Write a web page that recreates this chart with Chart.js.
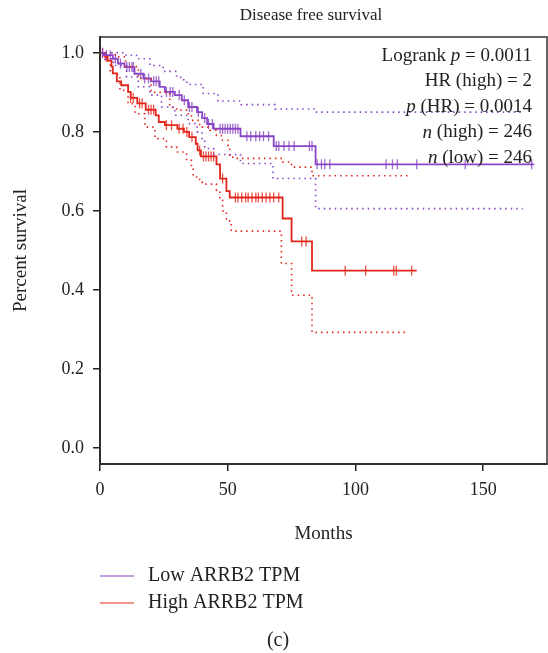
<!DOCTYPE html>
<html>
<head>
<meta charset="utf-8">
<script src="https://cdn.jsdelivr.net/npm/chart.js@4.4.1/dist/chart.umd.min.js"></script>
<style>
  html, body { margin: 0; padding: 0; background: #fff; }
</style>
</head>
<body>
<canvas id="chart" width="548" height="653"></canvas>
<script>
const chartTitle = 'Disease free survival';
const xTitle = 'Months';
const yTitle = 'Percent survival';
const caption = '(c)';
const xTicks = [0, 50, 100, 150];
const yTicks = [0, 0.2, 0.4, 0.6, 0.8, 1.0];
const seriesNames = ['Low ARRB2 TPM', 'High ARRB2 TPM'];

// Kaplan-Meier steps: value holds from that month on
const lowMonths = [0, 1.5, 5, 7, 9.6, 13.5, 17, 20, 23.4, 25.4, 29.3, 32, 34.5, 38, 40, 42, 44.5, 55, 68, 84.4, 170];
const lowSurv = [1, 0.994, 0.985, 0.973, 0.964, 0.947, 0.935, 0.928, 0.914, 0.901, 0.893, 0.88, 0.863, 0.85, 0.835, 0.82, 0.808, 0.789, 0.764, 0.718, 0.718];
const highMonths = [0, 2, 3, 4.5, 5, 6.6, 8.3, 11, 12, 14.6, 17.9, 21.8, 23, 25.4, 30.3, 32.9, 34.9, 37.5, 38.2, 39.5, 45.6, 47, 49.5, 50.8, 71.5, 75, 83, 124];
const highSurv = [1, 0.99, 0.98, 0.965, 0.948, 0.928, 0.918, 0.901, 0.886, 0.872, 0.856, 0.842, 0.825, 0.817, 0.808, 0.8, 0.787, 0.77, 0.753, 0.738, 0.718, 0.682, 0.65, 0.634, 0.581, 0.523, 0.449, 0.449];

// censored observations (months)
const lowCensor = [1, 2.5, 4, 6, 8, 10.5, 11.5, 12.5, 13, 16, 17.5, 19, 21, 22, 23, 26, 27.5, 28.5, 31, 33, 35, 36, 38.5, 41, 42.5, 44, 47, 48, 49, 50, 51, 52, 53, 54, 57.5, 59, 61, 62.5, 64, 66, 69, 70, 72, 74, 76, 82, 83, 85, 86.7, 88, 90, 112, 114.5, 116.4, 124, 143, 169];
const highCensor = [1, 2.5, 12, 13, 15.5, 16.5, 19, 20, 21, 26, 28, 31, 32.5, 34, 36, 39, 40.5, 41.5, 42.5, 43.5, 44.5, 48, 53, 54, 55.5, 57, 58, 59.5, 61, 62, 63.5, 65, 66.5, 68, 70, 79, 80.7, 96, 104, 115, 116, 122];

// 95% confidence bands
const lowUpperMonths = [0, 3.3, 9.8, 14.3, 19.5, 24.7, 30, 32.6, 34, 40.4, 46.2, 55.3, 68.5, 84.4, 165.5];
const lowUpperSurv = [1, 1, 0.994, 0.985, 0.968, 0.953, 0.938, 0.932, 0.92, 0.897, 0.878, 0.869, 0.858, 0.85, 0.85];
const lowLowerMonths = [0, 2, 5.2, 10.4, 15, 19.5, 24.1, 29.3, 34.5, 38, 40, 41, 44.5, 55, 67.7, 84.4, 165.5];
const lowLowerSurv = [1, 0.985, 0.968, 0.939, 0.914, 0.893, 0.863, 0.842, 0.821, 0.8, 0.783, 0.758, 0.743, 0.72, 0.682, 0.606, 0.606];
const highUpperMonths = [0, 3, 6, 10, 15, 20, 27.3, 30, 33.9, 35.8, 39, 43, 45.6, 47.5, 50.1, 50.8, 52, 71.5, 75, 83, 121];
const highUpperSurv = [1, 1, 0.99, 0.965, 0.935, 0.9, 0.862, 0.855, 0.846, 0.829, 0.812, 0.804, 0.791, 0.779, 0.766, 0.741, 0.733, 0.724, 0.711, 0.689, 0.689];
const highLowerMonths = [0, 2, 4, 5.2, 7.8, 11, 13.7, 17.6, 21.5, 26, 30, 33.9, 35.8, 36.5, 39, 40, 45.6, 46.9, 48, 49.5, 51.4, 71, 75, 83, 120.4];
const highLowerSurv = [1, 0.98, 0.955, 0.945, 0.905, 0.871, 0.846, 0.812, 0.783, 0.762, 0.749, 0.728, 0.711, 0.686, 0.673, 0.668, 0.652, 0.627, 0.6, 0.575, 0.549, 0.467, 0.387, 0.293, 0.293];

// stats block, [text, italic] parts per line
const statLines = [
  [['Logrank ', false], ['p', true], [' = 0.0011', false]],
  [['HR (high) = 2', false]],
  [['p', true], [' (HR) = 0.0014', false]],
  [['n', true], [' (high) = 246', false]],
  [['n', true], [' (low) = 246', false]],
];

const purple = '#8a45c6';
const red = '#e3261c';
const serif = '"Liberation Serif", "DejaVu Serif", serif';

const pts = (ms, ss) => ms.map((m, i) => ({ x: m, y: ss[i] }));
function survAt(ms, ss, t) {
  let v = ss[0];
  for (let i = 0; i < ms.length; i++) if (ms[i] <= t) v = ss[i];
  return v;
}
const censorPts = (cs, ms, ss) => cs.map(c => ({ x: c, y: survAt(ms, ss, c) }));

function band(data, color) {
  return {
    data, borderColor: color, borderWidth: 1.6, borderDash: [1.5, 4],
    stepped: true, pointRadius: 0, fill: false,
  };
}
function curve(data, color) {
  return { data, borderColor: color, borderWidth: 1.8, stepped: true, pointRadius: 0, fill: false };
}
function ticks(data, color) {
  return {
    data, showLine: false, borderColor: color, backgroundColor: color,
    pointStyle: 'line', pointRotation: 90, pointRadius: 5,
    pointBorderWidth: 1.3, pointBorderColor: color + 'cc',
  };
}

const extras = {
  id: 'extras',
  afterDraw(chart) {
    const { ctx, chartArea: a } = chart;
    ctx.save();
    ctx.strokeStyle = '#333';
    ctx.lineWidth = 1.5;
    ctx.strokeRect(a.left, a.top, a.right - a.left, a.bottom - a.top);

    ctx.fillStyle = '#222';
    ctx.textBaseline = 'middle';
    ctx.textAlign = 'center';
    ctx.font = '17px ' + serif;
    ctx.fillText(chartTitle, 311, 16);

    // stats, right aligned
    ctx.textAlign = 'left';
    statLines.forEach((parts, i) => {
      let w = 0;
      parts.forEach(([t, it]) => {
        ctx.font = (it ? 'italic ' : '') + '19px ' + serif;
        w += ctx.measureText(t).width;
      });
      let x = a.right - 15 - w;
      const y = 56 + i * 25.5;
      parts.forEach(([t, it]) => {
        ctx.font = (it ? 'italic ' : '') + '19px ' + serif;
        ctx.fillText(t, x, y);
        x += ctx.measureText(t).width;
      });
    });

    // legend
    ctx.font = '20px ' + serif;
    [purple, red].forEach((c, i) => {
      const y = 576 + i * 27;
      ctx.strokeStyle = c;
      ctx.lineWidth = 1.2;
      ctx.beginPath();
      ctx.moveTo(100, y);
      ctx.lineTo(134, y);
      ctx.stroke();
      ctx.fillText(seriesNames[i], 148, y);
    });

    ctx.textAlign = 'center';
    ctx.fillText(caption, 278, 641);
    ctx.restore();
  },
};

new Chart(document.getElementById('chart'), {
  type: 'line',
  data: {
    datasets: [
      band(pts(lowUpperMonths, lowUpperSurv), purple),
      band(pts(lowLowerMonths, lowLowerSurv), purple),
      band(pts(highUpperMonths, highUpperSurv), red),
      band(pts(highLowerMonths, highLowerSurv), red),
      curve(pts(lowMonths, lowSurv), purple),
      curve(pts(highMonths, highSurv), red),
      ticks(censorPts(lowCensor, lowMonths, lowSurv), purple),
      ticks(censorPts(highCensor, highMonths, highSurv), red),
    ],
  },
  options: {
    responsive: false,
    animation: false,
    layout: { autoPadding: false, padding: { top: 37, right: 1, bottom: 108, left: 0 } },
    plugins: { legend: { display: false }, tooltip: { enabled: false } },
    scales: {
      x: {
        type: 'linear', min: 0, max: 175,
        afterBuildTicks: (s) => { s.ticks = xTicks.map(v => ({ value: v })); },
        afterFit: (s) => { s.height = 81; },
        grid: { drawOnChartArea: false, tickLength: 7, color: '#222', lineWidth: 1.5 },
        border: { color: '#222', width: 2 },
        ticks: { padding: 8, color: '#222', font: { family: serif, size: 18 } },
        title: { display: true, text: xTitle, color: '#222', padding: { top: 0, bottom: 0 }, font: { family: serif, size: 19 } },
      },
      y: {
        type: 'linear', min: -0.04, max: 1.04,
        afterBuildTicks: (s) => { s.ticks = yTicks.map(v => ({ value: v })); },
        afterFit: (s) => { s.width = 100; },
        grid: { drawOnChartArea: false, tickLength: 7, color: '#222', lineWidth: 1.5 },
        border: { color: '#222', width: 2 },
        ticks: { padding: 9, color: '#222', font: { family: serif, size: 18 }, callback: (v) => v.toFixed(1) },
        title: { display: true, text: yTitle, color: '#222', padding: { top: 10, bottom: 0 }, font: { family: serif, size: 19 } },
      },
    },
  },
  plugins: [extras],
});
</script>
</body>
</html>
